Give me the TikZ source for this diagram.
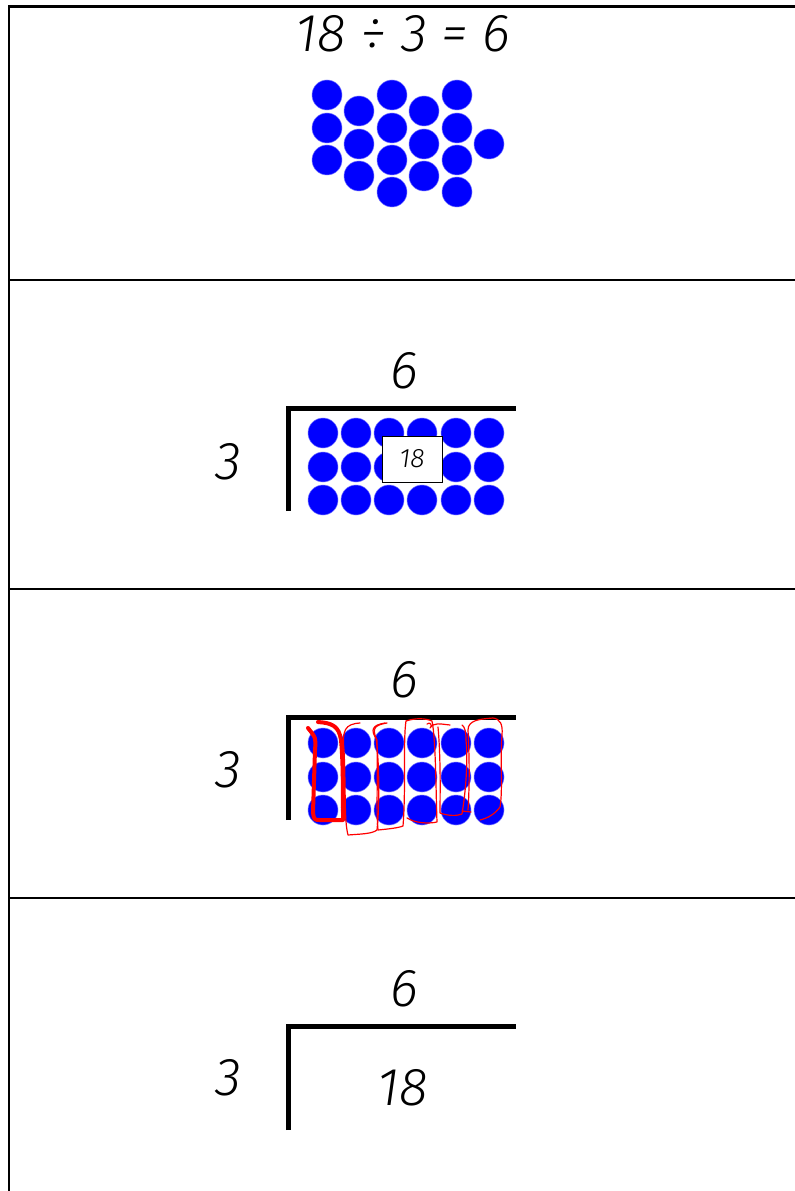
\documentclass[tikz,border=0pt]{standalone}
\usepackage{fontspec}
\newfontfamily\handfont{Fira Sans Light Italic}
\usetikzlibrary{positioning}
\definecolor{dotblue}{HTML}{0000FF}
\definecolor{loopred}{HTML}{FF0000}

\tikzset{
  bignum/.style={font=\handfont\fontsize{40}{48}\selectfont, inner sep=0pt},
  smallnum/.style={font=\handfont\fontsize{20}{24}\selectfont},
  rule/.style={line width=1.5pt},
  bracket/.style={line width=3.75pt},
  counter/.style={fill=dotblue, draw=dotblue!55!white, line width=0.4pt},
  ring/.style={draw=loopred, line width=0.9pt, line cap=round, line join=round},
}

\begin{document}
\begin{tikzpicture}[x=0.75pt, y=-0.75pt]
  \useasboundingbox (0,0) rectangle (795,1191);
  % table lines
  \draw[line width=2.25pt] (8,7) -- (795,7);
  \draw[rule] (9,7) -- (9,1191);
  \foreach \y in {280,589,898}
    \draw[rule] (9,\y) -- (795,\y);

  % panel 1: loose counters
  \node[bignum] (sum) at (403,34) {18 ÷ 3 = 6};
  \foreach \x/\ylist in {327/{95,128,160}, 359/{111,144,176},
      392/{95,128,160,192}, 424/{111,144,176},
      457/{95,128,160,192}, 489/{144}}
    \foreach \y in \ylist
      \draw[counter] (\x,\y) circle (15);

  % panel 2: array under the bracket
  \node[bignum] (quotA) at (404,371) {6};
  \node[bignum] (divA) at (228,462) {3};
  \draw[bracket] (288,511) -- (288,408) -- (516,408);
  \foreach \x in {323,356,389,422,456,489}
    \foreach \y in {433,467,500}
      \draw[counter] (\x,\y) circle (15);
  \node[smallnum, draw, fill=white, line width=0.6pt,
        minimum width=45pt, minimum height=34.5pt] (total) at (412,459) {18};

  % panel 3: groups ringed in red
  \node[bignum] (quotB) at (404,680) {6};
  \node[bignum] (divB) at (228,770) {3};
  \draw[bracket] (288,820) -- (288,717) -- (516,717);
  \foreach \x in {323,356,389,422,456,489}
    \foreach \y in {743,777,810}
      \draw[counter] (\x,\y) circle (15);
  \draw[ring, line width=3pt] (308,728) .. controls (316,738) .. (315,750)
    -- (313,812) .. controls (314,820) .. (321,820) -- (343,820)
    .. controls (343,790) and (343,760) .. (341,740)
    .. controls (339,726) and (332,723) .. (318,722);
  \draw[ring] (360,723) .. controls (345,724) and (342,730) .. (344,750)
    .. controls (346,790) and (344,820) .. (348,835)
    .. controls (360,834) and (372,834) .. (377,830)
    .. controls (380,800) and (379,760) .. (376,738)
    .. controls (372,728) and (375,725) .. (387,723);
  \draw[ring] (385,723) .. controls (372,725) and (370,730) .. (377,740)
    .. controls (378,780) and (376,810) .. (378,830)
    .. controls (388,829) and (398,828) .. (403,826)
    .. controls (406,790) and (403,740) .. (406,721);
  \draw[ring] (406,721) .. controls (415,718) and (425,718) .. (432,721)
    .. controls (436,740) and (436,800) .. (437,822)
    .. controls (428,824) and (415,823) .. (407,818);
  \draw[ring] (427,724) .. controls (430,721) and (433,726) .. (430,728)
    .. controls (434,722) and (440,724) .. (450,725);
  \draw[ring] (438,727) .. controls (441,760) and (440,800) .. (440,813)
    .. controls (448,816) and (457,816) .. (462,814)
    .. controls (466,790) and (468,760) .. (466,740)
    .. controls (466,732) and (465,727) .. (462,725);
  \draw[ring] (462,811) -- (471,812);
  \draw[ring] (468,810) .. controls (470,780) and (469,750) .. (468,730)
    .. controls (468,720) and (480,719) .. (493,718)
    .. controls (500,719) and (503,724) .. (502,735)
    .. controls (500,760) and (503,790) .. (500,807)
    .. controls (495,814) and (488,818) .. (480,820);

  % panel 4: written out
  \node[bignum] (quotC) at (404,989) {6};
  \node[bignum] (divC) at (228,1078) {3};
  \draw[bracket] (288,1130) -- (288,1026) -- (516,1026);
  \node[bignum] (dividend) at (403,1088) {18};
\end{tikzpicture}
\end{document}
